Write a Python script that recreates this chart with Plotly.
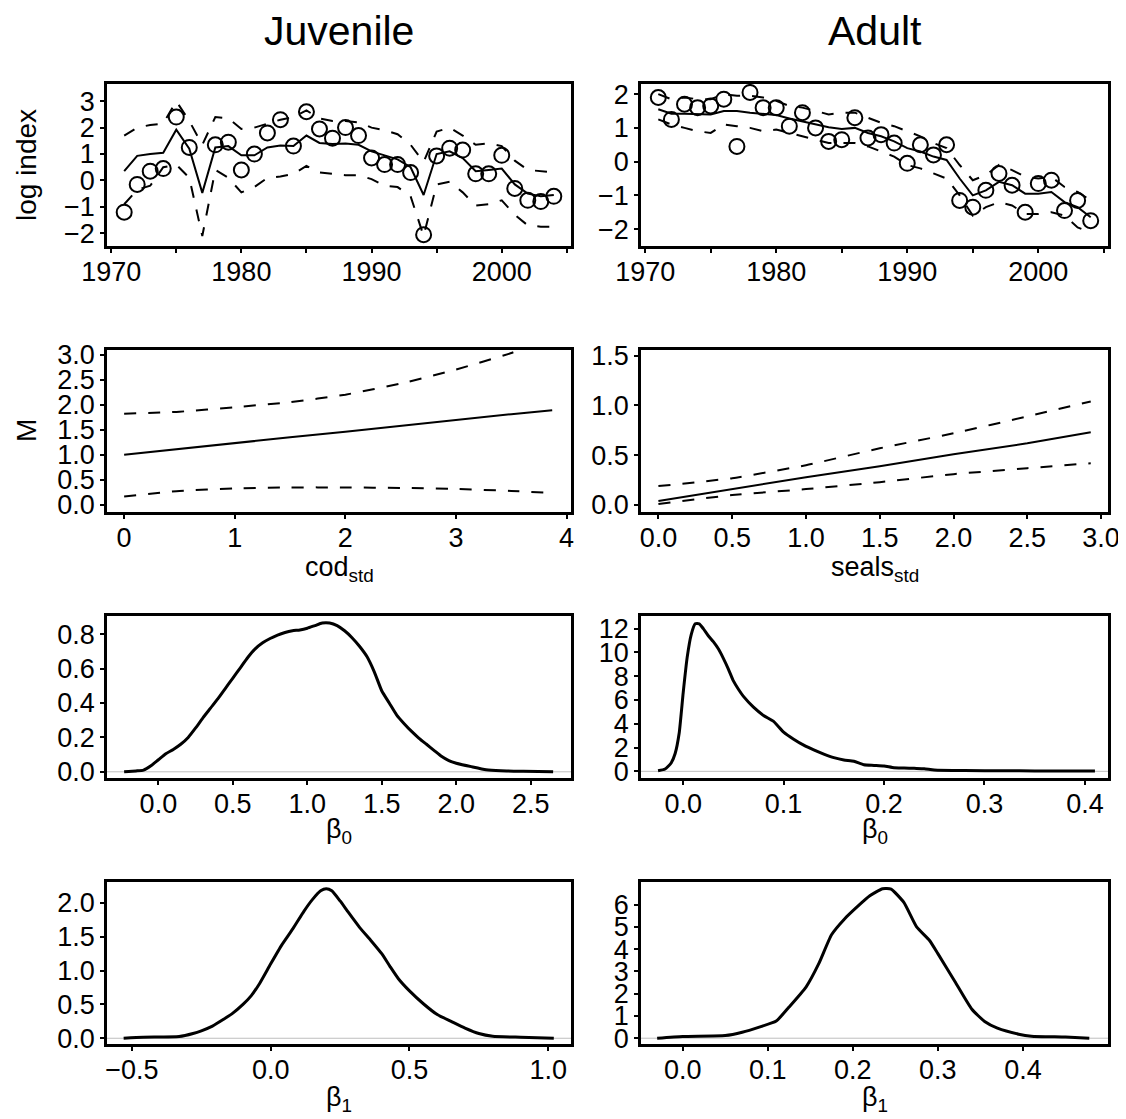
import plotly.graph_objects as go

# ---------------- data ----------------
years = [1971, 1972, 1973, 1974, 1975, 1976, 1977, 1978, 1979, 1980, 1981, 1982,
         1983, 1984, 1985, 1986, 1987, 1988, 1989, 1990, 1991, 1992, 1993, 1994,
         1995, 1996, 1997, 1998, 1999, 2000, 2001, 2002, 2003, 2004]

juv_obs = [-1.2, -0.15, 0.35, 0.45, 2.4, 1.25, None, 1.35, 1.45, 0.4, 1.0, 1.8,
           2.3, 1.3, 2.6, 1.95, 1.6, 2.0, 1.7, 0.85, 0.6, 0.6, 0.3, -2.05,
           0.93, 1.22, 1.15, 0.25, 0.25, 0.95, -0.3, -0.75, -0.8, -0.6]
juv_fit = [0.35, 0.93, 1.0, 1.05, 1.92, 1.2, -0.47, 1.25, 1.3, 0.95, 0.95, 1.25,
           1.32, 1.3, 1.7, 1.42, 1.38, 1.4, 1.35, 1.1, 0.95, 0.8, 0.5, -0.55,
           1.0, 1.1, 0.85, 0.35, 0.4, 0.45, -0.15, -0.5, -0.6, -0.55]
juv_upper = [1.7, 2.0, 2.1, 2.15, 3.0, 2.25, 1.35, 2.4, 2.35, 1.95, 2.0, 2.15,
             2.3, 2.4, 2.65, 2.35, 2.25, 2.25, 2.2, 2.0, 1.9, 1.75, 1.35, 0.7,
             1.85, 2.0, 1.7, 1.35, 1.4, 1.3, 0.75, 0.4, 0.35, 0.3]
juv_lower = [-0.9, -0.35, -0.2, 0.5, 0.6, 0.1, -2.1, 0.4, 0.1, -0.45, -0.25, 0.1,
             0.15, 0.25, 0.55, 0.3, 0.25, 0.2, 0.2, 0.05, -0.2, -0.25, -0.6, -2.1,
             -0.15, -0.05, -0.45, -0.95, -0.9, -0.75, -1.3, -1.7, -1.75, -1.75]

ad_obs = [1.9, 1.25, 1.7, 1.6, 1.65, 1.85, 0.45, 2.05, 1.6, 1.6, 1.05, 1.45,
          1.0, 0.6, 0.65, 1.3, 0.7, 0.8, 0.55, -0.05, 0.5, 0.2, 0.5, -1.15,
          -1.35, -0.85, -0.35, -0.7, -1.5, -0.65, -0.55, -1.45, -1.15, -1.75]
ad_fit = [1.55, 1.42, 1.42, 1.42, 1.4, 1.5, 1.5, 1.45, 1.42, 1.38, 1.28, 1.2,
          1.12, 1.02, 0.97, 1.0, 0.85, 0.75, 0.6, 0.4, 0.3, 0.15, 0.05, -0.5,
          -1.0, -0.85, -0.6, -0.7, -0.95, -0.95, -0.9, -1.2, -1.35, -1.65]
ad_upper = [2.0, 1.85, 1.9, 1.85, 1.85, 2.0, 1.95, 1.95, 1.9, 1.8, 1.65, 1.6,
            1.5, 1.4, 1.45, 1.45, 1.3, 1.15, 1.05, 0.9, 0.75, 0.55, 0.4, -0.1,
            -0.55, -0.4, -0.1, -0.25, -0.45, -0.5, -0.45, -0.75, -0.9, -1.15]
ad_lower = [1.25, 1.1, 1.0, 0.9, 0.85, 1.1, 1.05, 1.0, 0.9, 0.95, 0.85, 0.75,
            0.65, 0.55, 0.55, 0.55, 0.45, 0.3, 0.15, -0.1, -0.2, -0.35, -0.5, -1.0,
            -1.6, -1.35, -1.2, -1.3, -1.55, -1.55, -1.5, -1.6, -1.95, -2.1]

cod_x = [0.0, 0.5, 1.0, 1.5, 2.0, 2.5, 3.0, 3.5, 3.87]
cod_fit = [1.0, 1.12, 1.23, 1.35, 1.46, 1.58, 1.69, 1.81, 1.89]
cod_upper = [1.82, 1.86, 1.95, 2.05, 2.2, 2.42, 2.7, 3.03, 3.35]
cod_lower = [0.17, 0.28, 0.33, 0.35, 0.35, 0.34, 0.32, 0.28, 0.24]

seal_x = [0.0, 0.5, 1.0, 1.5, 2.0, 2.5, 2.93]
seal_fit = [0.04, 0.16, 0.28, 0.39, 0.51, 0.62, 0.73]
seal_upper = [0.19, 0.27, 0.4, 0.57, 0.72, 0.89, 1.04]
seal_lower = [0.01, 0.1, 0.16, 0.23, 0.31, 0.37, 0.42]

jb0_x = [-0.23, -0.15, -0.1, -0.05, 0.0, 0.05, 0.1, 0.15, 0.2, 0.25, 0.3, 0.35,
         0.4, 0.45, 0.5, 0.55, 0.6, 0.65, 0.7, 0.75, 0.8, 0.85, 0.9, 0.95, 1.0,
         1.05, 1.1, 1.15, 1.2, 1.25, 1.3, 1.35, 1.4, 1.45, 1.5, 1.55, 1.6, 1.65,
         1.7, 1.75, 1.8, 1.85, 1.9, 1.95, 2.0, 2.1, 2.2, 2.3, 2.45, 2.65]
jb0_y = [0.0, 0.005, 0.01, 0.035, 0.07, 0.105, 0.13, 0.16, 0.2, 0.255, 0.315, 0.37,
         0.425, 0.485, 0.545, 0.605, 0.665, 0.715, 0.75, 0.775, 0.795, 0.81, 0.82,
         0.825, 0.835, 0.85, 0.865, 0.865, 0.85, 0.82, 0.78, 0.73, 0.67, 0.58,
         0.47, 0.4, 0.33, 0.28, 0.235, 0.195, 0.16, 0.125, 0.09, 0.065, 0.05,
         0.03, 0.012, 0.006, 0.003, 0.0]

ab0_x = [-0.025, -0.018, -0.012, -0.008, -0.004, 0.0, 0.004, 0.008, 0.012, 0.016,
         0.02, 0.025, 0.03, 0.035, 0.04, 0.045, 0.05, 0.055, 0.06, 0.07, 0.08,
         0.09, 0.1, 0.11, 0.12, 0.13, 0.14, 0.15, 0.16, 0.17, 0.18, 0.19, 0.2,
         0.21, 0.22, 0.23, 0.24, 0.25, 0.28, 0.32, 0.35, 0.38, 0.41]
ab0_y = [0.05, 0.2, 0.7, 1.5, 3.2, 6.6, 9.6, 11.5, 12.4, 12.4, 12.0, 11.4, 10.9,
         10.3, 9.5, 8.6, 7.6, 6.9, 6.3, 5.4, 4.7, 4.2, 3.3, 2.7, 2.2, 1.8, 1.45,
         1.15, 0.95, 0.85, 0.55, 0.5, 0.45, 0.3, 0.28, 0.25, 0.22, 0.12, 0.07,
         0.05, 0.03, 0.03, 0.02]

jb1_x = [-0.53, -0.46, -0.33, -0.28, -0.25, -0.21, -0.17, -0.14, -0.1, -0.07,
         -0.04, 0.0, 0.04, 0.08, 0.12, 0.15, 0.18, 0.2, 0.22, 0.25, 0.28, 0.32,
         0.36, 0.4, 0.43, 0.46, 0.5, 0.55, 0.6, 0.65, 0.7, 0.75, 0.8, 0.9, 1.02]
jb1_y = [0.0, 0.015, 0.025, 0.07, 0.11, 0.18, 0.28, 0.36, 0.5, 0.63, 0.81, 1.1,
         1.38, 1.62, 1.88, 2.05, 2.18, 2.21, 2.18, 2.03, 1.86, 1.64, 1.45, 1.25,
         1.06, 0.88, 0.7, 0.51, 0.35, 0.25, 0.15, 0.07, 0.03, 0.015, 0.0]

ab1_x = [-0.03, 0.0, 0.05, 0.07, 0.09, 0.11, 0.125, 0.145, 0.16, 0.175, 0.19,
         0.205, 0.22, 0.235, 0.245, 0.26, 0.275, 0.29, 0.3, 0.32, 0.34, 0.355,
         0.37, 0.395, 0.41, 0.45, 0.478]
ab1_y = [0.0, 0.08, 0.12, 0.27, 0.5, 0.77, 1.4, 2.3, 3.35, 4.65, 5.35, 5.9, 6.4,
         6.72, 6.7, 6.1, 5.0, 4.4, 3.8, 2.55, 1.3, 0.75, 0.45, 0.18, 0.09, 0.05, 0.0]

year_ticks = [1970, 1980, 1990, 2000]

# ---------------- layout helpers ----------------
PAGE_W, PAGE_H = 1126, 1119
OFF = 8                      # default body margin of the html page
W, H = PAGE_W - OFF, PAGE_H - OFF
FONT = "Liberation Sans, Arial, sans-serif"
TICKFONT = dict(family=FONT, size=27, color="black")
DASH = "12px,12px"

col_px = [(107, 571), (641, 1108)]
row_px = [(84, 246), (350, 512), (616, 778), (882, 1044)]


def px_x(p):
    return (p - OFF) / W


def px_y(p):
    return 1 - (p - OFF) / H


def xdom(c):
    return [px_x(col_px[c][0]), px_x(col_px[c][1])]


def ydom(r):
    return [px_y(row_px[r][1]), px_y(row_px[r][0])]


fig = go.Figure()


def line(idx, x, y, dash=None, width=2, smooth=False):
    fig.add_trace(go.Scatter(
        x=x, y=y, mode="lines", xaxis=f"x{idx}", yaxis=f"y{idx}",
        line=dict(color="black", width=width, dash=dash,
                  shape="spline" if smooth else "linear",
                  smoothing=0.5 if smooth else None),
        showlegend=False, hoverinfo="skip", connectgaps=False))


def points(idx, x, y):
    fig.add_trace(go.Scatter(
        x=x, y=y, mode="markers", xaxis=f"x{idx}", yaxis=f"y{idx}",
        marker=dict(symbol="circle-open", size=15, color="black",
                    line=dict(width=2, color="black")),
        showlegend=False, hoverinfo="skip"))


# Row 1
line(1, years, juv_fit)
line(1, years, juv_upper, DASH)
line(1, years, juv_lower, DASH)
points(1, years, juv_obs)
line(2, years, ad_fit)
line(2, years, ad_upper, DASH)
line(2, years, ad_lower, DASH)
points(2, years, ad_obs)
# Row 2
line(3, cod_x, cod_fit)
line(3, cod_x, cod_upper, DASH, smooth=True)
line(3, cod_x, cod_lower, DASH, smooth=True)
line(4, seal_x, seal_fit)
line(4, seal_x, seal_upper, DASH, smooth=True)
line(4, seal_x, seal_lower, DASH, smooth=True)
# Rows 3-4 (densities)
line(5, jb0_x, jb0_y, width=3, smooth=True)
line(6, ab0_x, ab0_y, width=3, smooth=True)
line(7, jb1_x, jb1_y, width=3, smooth=True)
line(8, ab1_x, ab1_y, width=3, smooth=True)

TICKLEN = 4
year_minor = dict(ticks="outside", ticklen=TICKLEN, tickwidth=2, tickcolor="black",
                  tick0=1970, dtick=5, showgrid=False)

panels = {
    1: dict(col=0, row=0, xr=[1969.68, 2005.32], yr=[-2.48, 3.65],
            xt=dict(tickvals=year_ticks, minor=year_minor),
            yt=dict(tickvals=[-2, -1, 0, 1, 2, 3])),
    2: dict(col=1, row=0, xr=[1969.68, 2005.32], yr=[-2.5, 2.3],
            xt=dict(tickvals=year_ticks, minor=year_minor),
            yt=dict(tickvals=[-2, -1, 0, 1, 2])),
    3: dict(col=0, row=1, xr=[-0.155, 4.04], yr=[-0.14, 3.09],
            xt=dict(tickvals=[0, 1, 2, 3, 4]),
            yt=dict(tickvals=[0, 0.5, 1, 1.5, 2, 2.5, 3], tickformat=".1f")),
    4: dict(col=1, row=1, xr=[-0.118, 3.047], yr=[-0.07, 1.557],
            xt=dict(tickvals=[0, 0.5, 1, 1.5, 2, 2.5, 3], tickformat=".1f"),
            yt=dict(tickvals=[0, 0.5, 1, 1.5], tickformat=".1f")),
    5: dict(col=0, row=2, xr=[-0.345, 2.77], yr=[-0.036, 0.906],
            xt=dict(tickvals=[0, 0.5, 1, 1.5, 2, 2.5], tickformat=".1f"),
            yt=dict(tickvals=[0, 0.2, 0.4, 0.6, 0.8], tickformat=".1f")),
    6: dict(col=1, row=2, xr=[-0.042, 0.423], yr=[-0.56, 13.06],
            xt=dict(tickvals=[0, 0.1, 0.2, 0.3, 0.4], tickformat=".1f"),
            yt=dict(tickvals=[0, 2, 4, 6, 8, 10, 12])),
    7: dict(col=0, row=3, xr=[-0.59, 1.082], yr=[-0.085, 2.31],
            xt=dict(tickvals=[-0.5, 0, 0.5, 1.0], tickformat=".1f"),
            yt=dict(tickvals=[0, 0.5, 1, 1.5, 2], tickformat=".1f")),
    8: dict(col=1, row=3, xr=[-0.049, 0.5], yr=[-0.26, 7.02],
            xt=dict(tickvals=[0, 0.1, 0.2, 0.3, 0.4], tickformat=".1f"),
            yt=dict(tickvals=[0, 1, 2, 3, 4, 5, 6])),
}

axis_common = dict(showline=True, mirror=True, linecolor="black", linewidth=2.5,
                   ticks="outside", ticklen=TICKLEN, tickwidth=2, tickcolor="black",
                   showgrid=False, zeroline=False, tickfont=TICKFONT,
                   fixedrange=True, automargin=False, tickmode="array")

layout = dict(template="none", width=W, height=H,
              margin=dict(l=0, r=0, t=0, b=0, pad=0, autoexpand=False),
              paper_bgcolor="white", plot_bgcolor="white", showlegend=False,
              font=dict(family=FONT, color="black"))

shapes = []
for idx, p in panels.items():
    xa = dict(axis_common, domain=xdom(p["col"]), range=p["xr"],
              anchor=f"y{idx}", ticklabelstandoff=-4, **p["xt"])
    ya = dict(axis_common, domain=ydom(p["row"]), range=p["yr"],
              anchor=f"x{idx}", ticklabelstandoff=0, **p["yt"])
    layout["xaxis" if idx == 1 else f"xaxis{idx}"] = xa
    layout["yaxis" if idx == 1 else f"yaxis{idx}"] = ya
    if idx >= 5:
        shapes.append(dict(type="line", xref=f"x{idx} domain", yref=f"y{idx}",
                           x0=0, x1=1, y0=0, y1=0,
                           line=dict(color="#BEBEBE", width=1), layer="below"))
layout["shapes"] = shapes


def ann(text, xpx, ypx, size=27, angle=0):
    return dict(text=text, x=px_x(xpx), y=px_y(ypx), xref="paper", yref="paper",
                showarrow=False, xanchor="center", yanchor="middle",
                textangle=angle, font=dict(family=FONT, size=size, color="black"))


lc = (col_px[0][0] + col_px[0][1]) / 2
rc = (col_px[1][0] + col_px[1][1]) / 2
layout["annotations"] = [
    ann("Juvenile", lc, 31, size=41),
    ann("Adult", rc, 31, size=41),
    ann("log index", 26, 165, size=28, angle=-90),
    ann("M", 27, 431, size=28, angle=-90),
    ann("cod<sub>std</sub>", lc, 569),
    ann("seals<sub>std</sub>", rc, 569),
    ann("β<sub>0</sub>", lc, 831),
    ann("β<sub>0</sub>", rc, 831),
    ann("β<sub>1</sub>", lc, 1099),
    ann("β<sub>1</sub>", rc, 1099),
]

fig.update_layout(**layout)
fig.write_html("out.html")
